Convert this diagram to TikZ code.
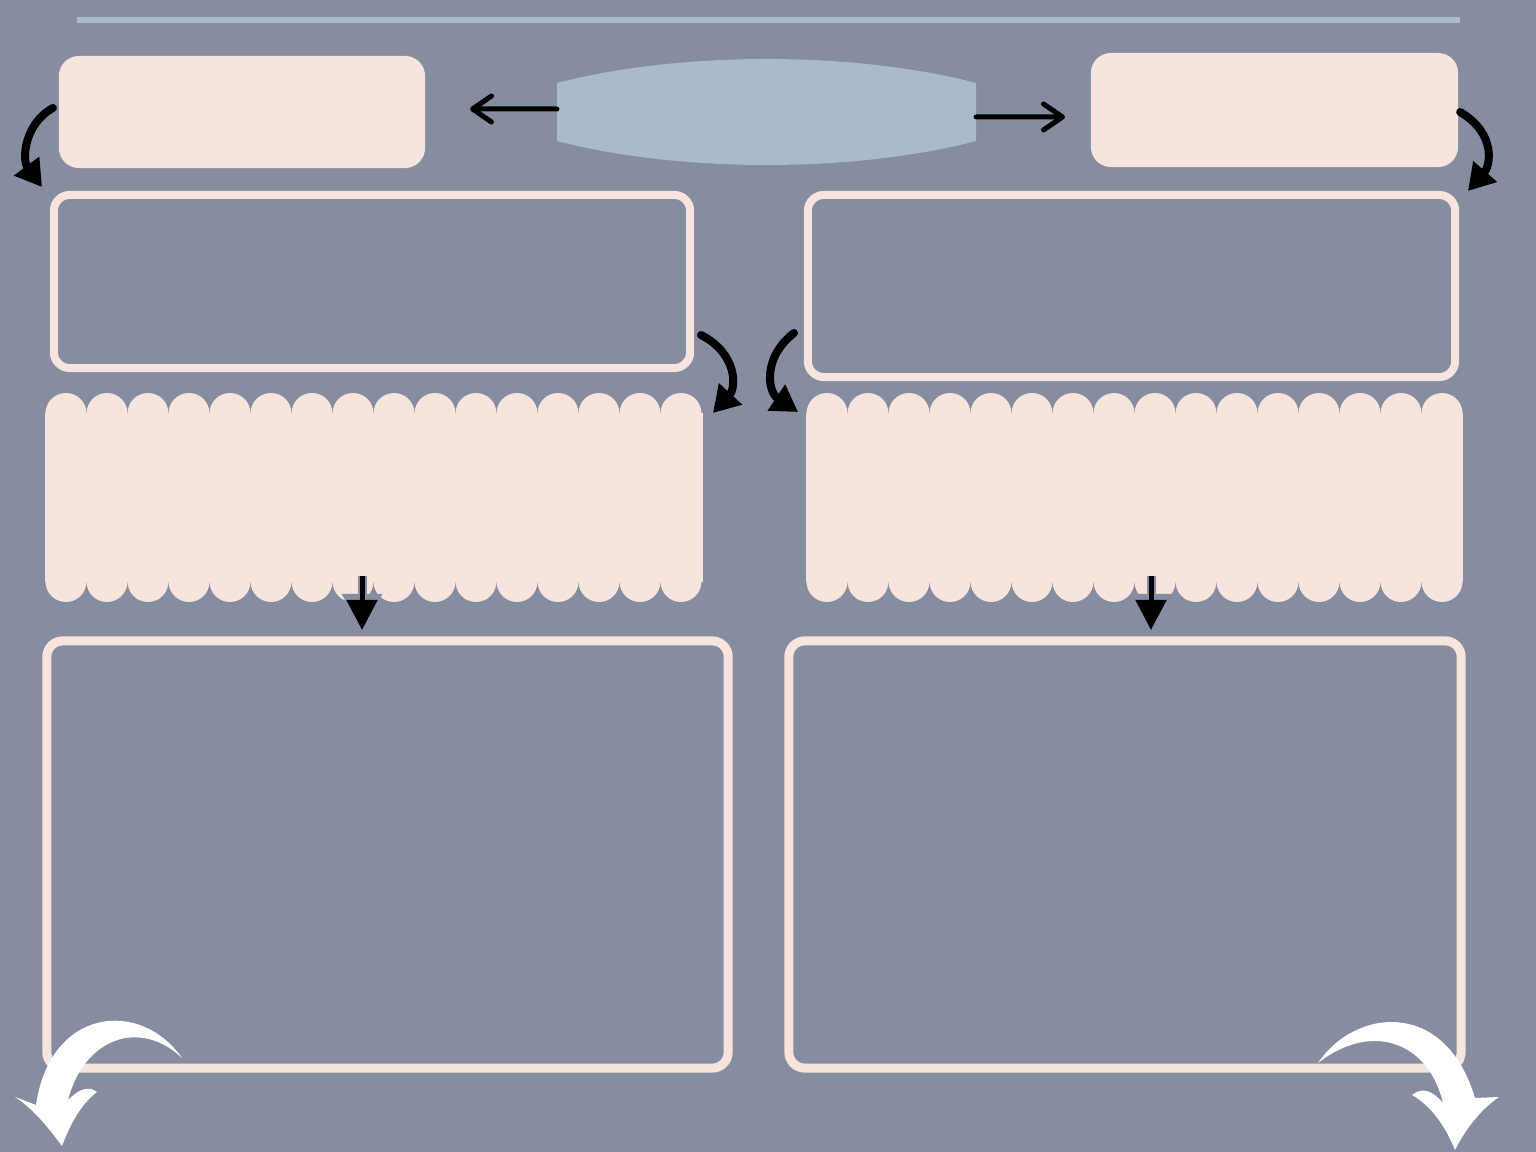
\documentclass[tikz,border=0pt]{standalone}
\usetikzlibrary{arrows.meta}

\definecolor{slate}{HTML}{878DA0}
\definecolor{blush}{HTML}{F6E4DD}
\definecolor{mist}{HTML}{A9BACB}

\tikzset{
  pill/.style={fill=blush, rounded corners=0.2cm, inner sep=0pt, outer sep=0pt},
  frame/.style={draw=blush, rounded corners=0.16cm, inner sep=0pt, outer sep=0pt},
  scallop/.style={fill=blush, inner sep=0pt, outer sep=0pt},
  link/.style={line width=0.05cm, line cap=round,
    -{Straight Barb[length=0.19cm,width=0.26cm,round]}},
  swing/.style={line width=0.08cm, line cap=round,
    -{Triangle[length=0.26cm,width=0.3cm]}},
  drop/.style={line width=0.05cm, -{Triangle[length=0.3cm,width=0.3cm]}},
  dropedge/.style={draw=slate, line width=0.09cm, -{Triangle[length=0.36cm,width=0.38cm]}},
}

\begin{document}
\begin{tikzpicture}[x=0.01cm, y=-0.01cm]

% canvas
\fill[slate] (0,0) rectangle (1536,1152);
\useasboundingbox (0,0) rectangle (1536,1152);

% title rule
\draw[mist, line width=0.06cm] (77,20) -- (1460,20);

%========================
% Top row
%========================

\node[pill, minimum width=3.66cm, minimum height=1.12cm] (topL) at (242,112) {};
\node[pill, minimum width=3.67cm, minimum height=1.14cm] (topR) at (1274.5,110) {};

% hub
\fill[mist] (557,83) .. controls (680,51) and (853,51) .. (976,83)
  -- (976,141) .. controls (853,173) and (680,173) .. (557,141) -- cycle;
\node[inner sep=0pt, outer sep=0pt, minimum width=4.19cm, minimum height=0.58cm] (hub) at (766.5,112) {};

\coordinate (hubL) at (470,109);
\coordinate (hubR) at (1065,117);
\draw[link] ([yshift=0.03cm]hub.west) -- (hubL);
\draw[link] ([yshift=-0.05cm]hub.east) -- (hubR);

%========================
% Middle row
%========================

\node[frame, line width=0.08cm, minimum width=6.36cm, minimum height=1.73cm] (midL) at (372,281.5) {};
\node[frame, line width=0.08cm, minimum width=6.47cm, minimum height=1.82cm] (midR) at (1131.5,286) {};

% side turns
\coordinate (tlEnd) at (42,187);
\coordinate (trEnd) at (1468,191);
\draw[swing] ([xshift=-0.06cm,yshift=0.04cm]topL.west) .. controls (24,124) and (22,160) .. (tlEnd);
\draw[swing] ([xshift=0.02cm,yshift=-0.02cm]topR.east) .. controls (1497,134) and (1490,166) .. (trEnd);

%========================
% Scalloped bands
%========================

\node[scallop, minimum width=6.58cm, minimum height=1.68cm] (scL) at (374,497.5) {};
\node[scallop, minimum width=6.57cm, minimum height=1.68cm] (scR) at (1134.5,497.5) {};
\foreach \i in {0,...,15} {
  \fill[blush] ({66+41*\i},413.5) circle[radius=0.205cm] ({66+41*\i},581.5) circle[radius=0.205cm];
  \fill[blush] ({827+41*\i},413.5) circle[radius=0.205cm] ({827+41*\i},581.5) circle[radius=0.205cm];
}

\coordinate (mlStart) at (701,335);
\coordinate (mlEnd) at (713,413);
\coordinate (mrStart) at (794,333);
\coordinate (mrEnd) at (798,412);
\draw[swing] (mlStart) .. controls (738,354) and (736,388) .. (mlEnd);
\draw[swing] (mrStart) .. controls (762,358) and (768,392) .. (mrEnd);

%========================
% Bottom row
%========================

\node[frame, line width=0.09cm, minimum width=6.81cm, minimum height=4.27cm] (botL) at (387.5,854.5) {};
\node[frame, line width=0.09cm, minimum width=6.72cm, minimum height=4.27cm] (botR) at (1125,854.5) {};

\coordinate (dL1) at (362,576);
\coordinate (dL2) at (362,630);
\coordinate (dR1) at (1151,576);
\coordinate (dR2) at (1151,630);
\draw[dropedge] (dL1) -- (dL2);
\draw[drop] (dL1) -- (dL2);
\draw[dropedge] (dR1) -- (dR2);
\draw[drop] (dR1) -- (dR2);

% white swooshes
\fill[white] (182,1058) .. controls (140,998) and (50,1008) .. (36,1105)
  -- (15,1097) .. controls (35,1110) and (50,1130) .. (62,1146)
  .. controls (70,1125) and (80,1105) .. (97,1092)
  .. controls (88,1085) and (78,1090) .. (68,1100)
  .. controls (84,1038) and (140,1018) .. (182,1058) -- cycle;
\fill[white] (1318,1063) .. controls (1355,1008) and (1445,998) .. (1475,1098)
  -- (1499,1097) .. controls (1480,1110) and (1465,1130) .. (1455,1150)
  .. controls (1445,1125) and (1430,1105) .. (1412,1095)
  .. controls (1422,1087) and (1432,1090) .. (1443,1103)
  .. controls (1428,1040) and (1370,1022) .. (1318,1063) -- cycle;

\end{tikzpicture}
\end{document}
